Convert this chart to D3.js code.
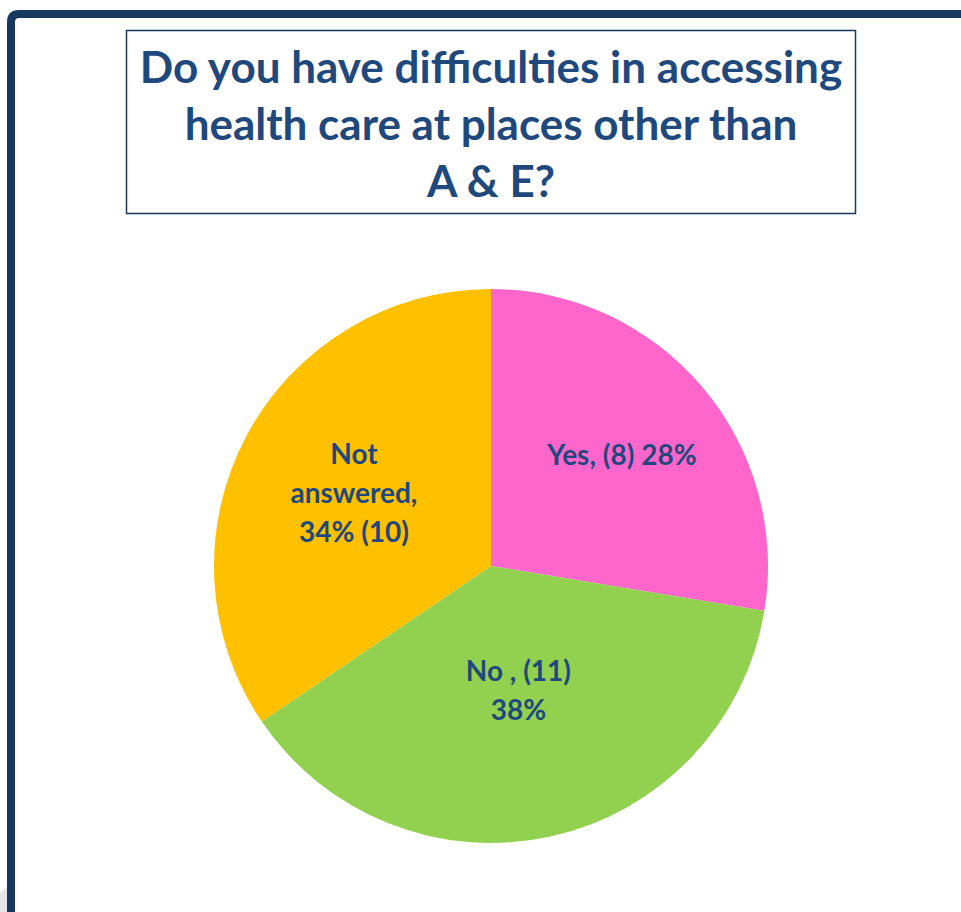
<!DOCTYPE html>
<html>
<head>
<meta charset="utf-8">
<script src="https://cdn.jsdelivr.net/npm/d3@7"></script>
<style>
  body { margin: 0; background: #fff; }
  svg { display: block; }
</style>
</head>
<body>
<script>
// answers and counts
const categories = ['Yes', 'No', 'Not answered'];
const counts = [8, 11, 10];
const labels = [
  ['Yes, (8) 28%'],
  ['No , (11)', '38%'],
  ['Not', 'answered,', '34% (10)']
];
const colours = ['#ff66cc', '#92d050', '#ffc000'];
const titleLines = [
  'Do you have difficulties in accessing',
  'health care at places other than',
  'A & E?'
];

const width = 961;
const height = 912;
const navy = '#17375e';
const textCol = '#1f497d';

// how far out each label sits, as a share of the radius
const labelRadius = [0.62, 0.46, 0.56];

const svg = d3.select('body')
  .append('svg')
  .attr('width', width)
  .attr('height', height);

// slide frame (left and top edges)
svg.append('path')
  .attr('d', 'M11,912 L11,22 Q11,14 19,14 L961,14')
  .attr('fill', 'none')
  .attr('stroke', navy)
  .attr('stroke-width', 8);

// little grey shadow in the bottom corner
svg.append('path')
  .attr('d', 'M0,893 L7,887 L7,912 L0,912 Z')
  .attr('fill', '#e4e4e4');

// title box
svg.append('rect')
  .attr('x', 126.5)
  .attr('y', 30.5)
  .attr('width', 729)
  .attr('height', 183)
  .attr('fill', '#fff')
  .attr('stroke', navy)
  .attr('stroke-width', 1.5);

svg.append('g')
  .selectAll('text')
  .data(titleLines)
  .enter()
  .append('text')
  .attr('x', 491)
  .attr('y', (d, i) => 83 + i * 57)
  .attr('text-anchor', 'middle')
  .style('font-family', 'Lato, "Open Sans", sans-serif')
  .style('font-weight', 'bold')
  .style('font-size', '44px')
  .style('fill', textCol)
  .text((d) => d);

// pie
const cx = 491;
const cy = 566;
const radius = 277;

const pie = d3.pie().sort(null).value((d) => d.count);
const arc = d3.arc().innerRadius(0).outerRadius(radius);

const data = categories.map((c, i) => ({ name: c, count: counts[i], label: labels[i], colour: colours[i], idx: i }));
const arcs = pie(data);

const g = svg.append('g').attr('transform', `translate(${cx},${cy})`);

g.selectAll('.slice')
  .data(arcs)
  .enter()
  .append('path')
  .attr('class', 'slice')
  .attr('d', arc)
  .style('fill', (d) => d.data.colour);

const lineH = 39;

const lab = g.selectAll('.label')
  .data(arcs)
  .enter()
  .append('text')
  .attr('class', 'label')
  .attr('text-anchor', 'middle')
  .style('font-family', 'Lato, "Open Sans", sans-serif')
  .style('font-weight', 'bold')
  .style('font-size', '28px')
  .style('fill', textCol)
  .attr('transform', (d) => {
    const r = radius * labelRadius[d.data.idx];
    const [x, y] = d3.arc().innerRadius(r).outerRadius(r).centroid(d);
    return `translate(${x},${y})`;
  });

lab.selectAll('tspan')
  .data((d) => d.data.label.map((t, i, a) => ({ t, i, n: a.length })))
  .enter()
  .append('tspan')
  .attr('x', 0)
  .attr('y', (d) => (d.i - (d.n - 1) / 2) * lineH + 10)
  .text((d) => d.t);
</script>
</body>
</html>
